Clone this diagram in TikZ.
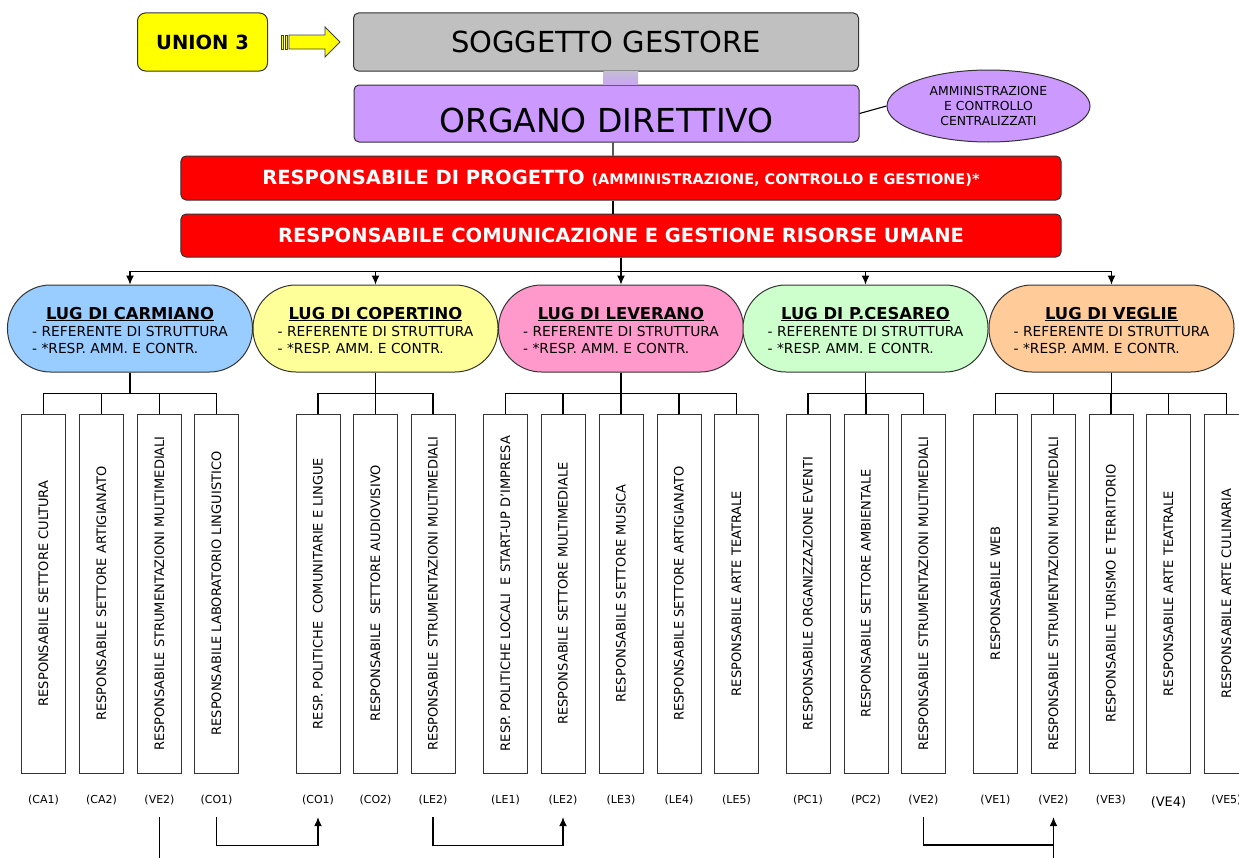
\documentclass[tikz,border=0pt]{standalone}
\usepackage{fontspec}
\setmainfont{DejaVu Sans}
\usetikzlibrary{arrows.meta,shapes.geometric}
\definecolor{cyel}{HTML}{FFFF00}
\definecolor{cgray}{HTML}{C0C0C0}
\definecolor{cpurp}{HTML}{CC99FF}
\definecolor{cred}{HTML}{FF0000}
\definecolor{cblue}{HTML}{99CCFF}
\definecolor{clyel}{HTML}{FFFF99}
\definecolor{cpink}{HTML}{FF99CC}
\definecolor{cgreen}{HTML}{CCFFCC}
\definecolor{corange}{HTML}{FFCC99}
\definecolor{cbartop}{HTML}{C4BCD6}
\definecolor{cbarbot}{HTML}{C9A6F2}
\newcommand\lugtxt[1]{\begin{tabular}{@{}l@{}}\multicolumn{1}{@{}c@{}}{\fontsize{16.4bp}{17bp}\selectfont\bfseries\underline{#1}}\\- REFERENTE DI STRUTTURA\\- *RESP. AMM. E CONTR.\end{tabular}}
\newcommand\lugnode[4]{\node[lug, fill=#4] (#1) at (#2,328.5) {}; \node[lugt] (#1t) at ([shift={(0,4)}]#1.center) {\lugtxt{#3}};}
\newcommand\vb[3]{\node[vbox] (#1) at (#2,593.5) {}; \node[vtext] (#1t) at (#1) {#3};}
\newcommand\lb[3]{\node[lab] (#1) at (#2,800) {#3};}
\tikzset{
  frame/.style={draw=black!80, line width=1bp, inner sep=0},
  topbox/.style={frame, rounded corners=5bp, minimum width=505bp},
  redbox/.style={frame, rounded corners=5bp, fill=cred, text=white, minimum width=880bp, font=\fontsize{19.5bp}{22bp}\selectfont\bfseries},
  lug/.style={frame, rounded corners=43bp, minimum width=245bp, minimum height=87bp},
  lugt/.style={inner sep=0, font=\fontsize{13.8bp}{17bp}\selectfont},
  vbox/.style={frame, minimum width=44bp, minimum height=359bp},
  vtext/.style={rotate=90, inner sep=0, font=\fontsize{13bp}{15bp}\selectfont},
  lab/.style={inner sep=0, minimum height=34bp, font=\fontsize{11bp}{13bp}\selectfont},
  conn/.style={line width=1.1bp, draw=black},
  arr/.style={conn, -{Latex[length=9bp,width=8bp]}},
}
\begin{document}
\begin{tikzpicture}[x=1bp,y=-1bp]
\path[use as bounding box, clip] (0,0) rectangle (1239,858);
\fill[white] (0,0) rectangle (1239,858);

% top row
\node[frame, rounded corners=8bp, fill=cyel, minimum width=130bp, minimum height=58bp, font=\fontsize{19.5bp}{22bp}\selectfont\bfseries] (union) at (202.5,42) {UNION 3};
\filldraw[fill=cyel, draw=black!75, line width=0.8bp] (281,35) rectangle (283.5,49);
\filldraw[fill=cyel, draw=black!75, line width=0.8bp] (285,35) rectangle (287.5,49);
\filldraw[fill=cyel, draw=black!75, line width=0.8bp] (289,35) -- (325,35) -- (325,27) -- (340,42) -- (325,57) -- (325,49) -- (289,49) -- cycle;
\node[topbox, fill=cgray, minimum height=58bp, font=\fontsize{29bp}{32bp}\selectfont] (sogg) at (606,42) {SOGGETTO GESTORE};
\node[topbox, fill=cpurp, minimum height=57bp] (org) at (606.5,113.5) {};
\node[inner sep=0, font=\fontsize{33bp}{36bp}\selectfont] (orgtxt) at ([shift={(0,6.5)}]org.center) {ORGANO DIRETTIVO};
\shade[top color=cbartop, bottom color=cbarbot] ([xshift=-2.5bp]sogg.south) rectangle ([xshift=31.5bp]org.north);
\node[frame, ellipse, fill=cpurp, minimum width=203bp, minimum height=72bp, align=center, font=\fontsize{12.4bp}{15bp}\selectfont] (amm) at (988.5,106) {AMMINISTRAZIONE\\E CONTROLLO\\CENTRALIZZATI};
\draw[conn] (org.east) -- (amm.west);

% red boxes
\node[redbox, minimum height=44bp] (prog) at (621,178) {RESPONSABILE DI PROGETTO {\fontsize{14.5bp}{17bp}\selectfont (AMMINISTRAZIONE, CONTROLLO E GESTIONE)*}};
\node[redbox, minimum height=43bp] (com) at (621,235.5) {RESPONSABILE COMUNICAZIONE E GESTIONE RISORSE UMANE};
\draw[conn] ([xshift=6.5bp]org.south) -- ([xshift=-8bp]prog.north);
\draw[conn] ([xshift=-8bp]prog.south) -- ([xshift=-8bp]com.north);

% LUGs
\lugnode{carm}{130}{LUG DI CARMIANO}{cblue}
\lugnode{cope}{375.5}{LUG DI COPERTINO}{clyel}
\lugnode{leve}{621}{LUG DI LEVERANO}{cpink}
\lugnode{pces}{865.5}{LUG DI P.CESAREO}{cgreen}
\lugnode{vegl}{1111.5}{LUG DI VEGLIE}{corange}
\foreach \l in {carm,cope,leve,pces,vegl} \draw[arr] (com.south) -- ++(0,14) -| (\l.north);

% vertical boxes
\vb{ca1}{43.5}{RESPONSABILE SETTORE CULTURA}
\vb{ca2}{101.5}{RESPONSABILE SETTORE ARTIGIANATO}
\vb{ca3}{159.5}{RESPONSABILE STRUMENTAZIONI MULTIMEDIALI}
\vb{ca4}{216.5}{RESPONSABILE LABORATORIO LINGUISTICO}
\vb{co1}{318}{RESP. POLITICHE\ \ COMUNITARIE E LINGUE}
\vb{co2}{375.5}{RESPONSABILE\ \ SETTORE AUDIOVISIVO}
\vb{co3}{433}{RESPONSABILE STRUMENTAZIONI MULTIMEDIALI}
\vb{le1}{505.5}{RESP. POLITICHE LOCALI\ \ E START-UP D’IMPRESA}
\vb{le2}{563}{RESPONSABILE SETTORE MULTIMEDIALE}
\vb{le3}{621}{RESPONSABILE SETTORE MUSICA}
\vb{le4}{679}{RESPONSABILE SETTORE ARTIGIANATO}
\vb{le5}{736.5}{RESPONSABILE ARTE TEATRALE}
\vb{pc1}{808}{RESPONSABILE ORGANIZZAZIONE EVENTI}
\vb{pc2}{866}{RESPONSABILE SETTORE AMBIENTALE}
\vb{pc3}{923.5}{RESPONSABILE STRUMENTAZIONI MULTIMEDIALI}
\vb{ve1}{995.5}{RESPONSABILE WEB}
\vb{ve2}{1053.5}{RESPONSABILE STRUMENTAZIONI MULTIMEDIALI}
\vb{ve3}{1111}{RESPONSABILE TURISMO E TERRITORIO}
\vb{ve4}{1168.5}{RESPONSABILE ARTE TEATRALE}
\vb{ve5}{1226.5}{RESPONSABILE ARTE CULINARIA}
\foreach \b in {ca1,ca2,ca3,ca4} \draw[conn] (carm.south) -- ++(0,21) -| (\b.north);
\foreach \b in {co1,co2,co3} \draw[conn] (cope.south) -- ++(0,21) -| (\b.north);
\foreach \b in {le1,le2,le3,le4,le5} \draw[conn] (leve.south) -- ++(0,21) -| (\b.north);
\foreach \b in {pc1,pc2,pc3} \draw[conn] (pces.south) -- ++(0,21) -| (\b.north);
\foreach \b in {ve1,ve2,ve3,ve4,ve5} \draw[conn] (vegl.south) -- ++(0,21) -| (\b.north);

% labels
\lb{l1}{43.5}{(CA1)}
\lb{l2}{101.5}{(CA2)}
\lb{l3}{159.5}{(VE2)}
\lb{l4}{216.5}{(CO1)}
\lb{l5}{318}{(CO1)}
\lb{l6}{375.5}{(CO2)}
\lb{l7}{433}{(LE2)}
\lb{l8}{505.5}{(LE1)}
\lb{l9}{563}{(LE2)}
\lb{l10}{621}{(LE3)}
\lb{l11}{679}{(LE4)}
\lb{l12}{736.5}{(LE5)}
\lb{l13}{808}{(PC1)}
\lb{l14}{866}{(PC2)}
\lb{l15}{923.5}{(VE2)}
\lb{l16}{995.5}{(VE1)}
\lb{l17}{1053.5}{(VE2)}
\lb{l18}{1111}{(VE3)}
\node[lab, font=\fontsize{13bp}{15bp}\selectfont] (l19) at (1168.5,802) {(VE4)};
\lb{l20}{1226.5}{(VE5)}

% bottom connectors
\coordinate (bot1) at (159.5,862);
\coordinate (bot2) at (1053.5,862);
\draw[conn] (l3.south) -- (bot1);
\draw[arr] (l4.south) -- ++(0,28) -| (l5.south);
\draw[arr] (l7.south) -- ++(0,28) -| (l9.south);
\draw[conn] (l15.south) |- (l17.south |- 0,845);
\draw[arr] (bot2) -- (l17.south);
\end{tikzpicture}
\end{document}
